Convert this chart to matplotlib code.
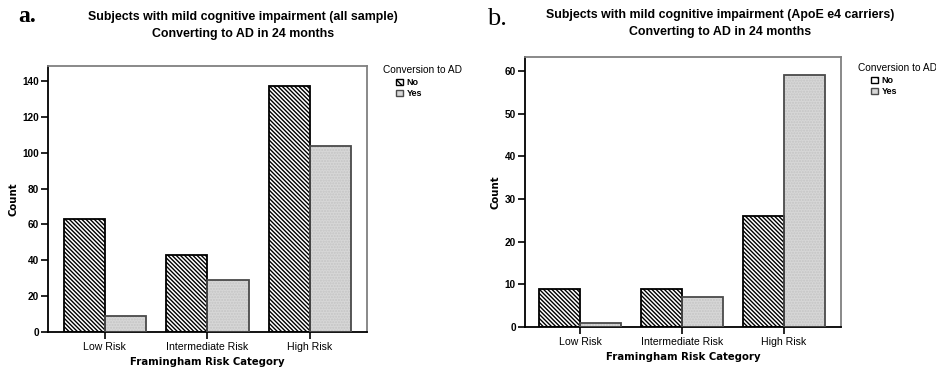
import matplotlib
matplotlib.use("Agg")
import matplotlib.pyplot as plt
import numpy as np
from matplotlib.patches import Patch

categories = ["Low Risk", "Intermediate Risk", "High Risk"]
series_names = ["No", "Yes"]
a_no = [63, 43, 137]
a_yes = [9, 29, 104]
b_no = [9, 9, 26]
b_yes = [1, 7, 59]
a_yticks = [0, 20, 40, 60, 80, 100, 120, 140]
b_yticks = [0, 10, 20, 30, 40, 50, 60]

title_a = "Subjects with mild cognitive impairment (all sample)\nConverting to AD in 24 months"
title_b = "Subjects with mild cognitive impairment (ApoE e4 carriers)\nConverting to AD in 24 months"

plt.rcParams['hatch.linewidth'] = 1.0
W, H = 937, 370
fig = plt.figure(figsize=(W / 100, H / 100), dpi=100)

def px_axes(l, t, r, b):
    return fig.add_axes([l / W, 1 - b / H, (r - l) / W, (b - t) / H])

ax_a = px_axes(48, 66, 367, 332)
ax_b = px_axes(525, 57, 841, 327)

NO_HATCH = "\\" * 8
YES_FACE = "#d7d7d7"

def draw(ax, no, yes, yticks, ylim, xlim):
    x = np.arange(len(categories))
    w = 0.4
    ax.bar(x - w / 2, no, w, facecolor="white", edgecolor="black",
           hatch=NO_HATCH, linewidth=0, zorder=2)
    ax.bar(x - w / 2, no, w, facecolor="none", edgecolor="black",
           linewidth=1.3, zorder=3)
    ax.bar(x + w / 2, yes, w, facecolor=YES_FACE, edgecolor="#c4c4c4",
           hatch="......", linewidth=0, zorder=2)
    ax.bar(x + w / 2, yes, w, facecolor="none", edgecolor="#4a4a4a",
           linewidth=1.3, zorder=3)
    ax.set_xlim(*xlim)
    ax.set_ylim(*ylim)
    ax.set_xticks(x)
    ax.set_xticklabels(categories, family="Liberation Sans", fontsize=7.6)
    ax.set_yticks(yticks)
    ax.set_yticklabels([str(v) for v in yticks], family="Liberation Sans",
                       fontsize=7.2, fontweight="bold")
    ax.tick_params(axis="y", direction="out", length=5, width=1.2, pad=1.5)
    ax.tick_params(axis="x", direction="inout", length=10, width=1.2, pad=2)
    for s in ("left", "bottom"):
        ax.spines[s].set_color("black")
        ax.spines[s].set_linewidth(1.3)
    for s in ("top", "right"):
        ax.spines[s].set_color("#808080")
        ax.spines[s].set_linewidth(1.3)
    ax.set_xlabel("Framingham Risk Category", family="DejaVu Sans",
                  fontweight="bold", fontsize=7.3, labelpad=4)
    ax.set_ylabel("Count", family="DejaVu Sans", fontweight="bold",
                  fontsize=7.3, labelpad=3)

draw(ax_a, a_no, a_yes, a_yticks, (0, 148.4), (-0.555, 2.555))
draw(ax_b, b_no, b_yes, b_yticks, (0, 63.3), (-0.54, 2.56))

# titles
fig.text(243 / W, 1 - 11 / H, title_a, ha="center", va="top",
         family="Liberation Sans", fontweight="bold", fontsize=8.9,
         linespacing=1.5)
fig.text(720 / W, 1 - 9 / H, title_b, ha="center", va="top",
         family="Liberation Sans", fontweight="bold", fontsize=8.9,
         linespacing=1.5)

# panel letters
fig.text(18 / W, 1 - 22 / H, "a.", family="Liberation Serif", fontsize=17,
         fontweight="bold", va="baseline")
fig.text(487 / W, 1 - 25 / H, "b.", family="Liberation Serif", fontsize=19,
         va="baseline")

# legends
handles = [Patch(facecolor="white", edgecolor="black", hatch="\\\\", linewidth=1.0),
           Patch(facecolor=YES_FACE, edgecolor="#4a4a4a", linewidth=1.0)]

def add_legend(ax, x_title, y_title, x_ent, y_ent):
    fig.text(x_title / W, 1 - y_title / H, "Conversion to AD", ha="left",
             va="center", family="Liberation Sans", fontsize=7.3)
    ax.legend(handles, series_names, loc="upper left",
              bbox_to_anchor=(x_ent / W, 1 - y_ent / H),
              bbox_transform=fig.transFigure, frameon=False,
              prop={"family": "Liberation Sans", "size": 6.5, "weight": "bold"},
              handlelength=0.75, handleheight=0.75, handletextpad=0.4,
              labelspacing=0.25, borderpad=0, borderaxespad=0)

add_legend(ax_a, 383, 70, 396, 78)
add_legend(ax_b, 858, 68, 871, 76)

fig.savefig("out.png", dpi=100)
